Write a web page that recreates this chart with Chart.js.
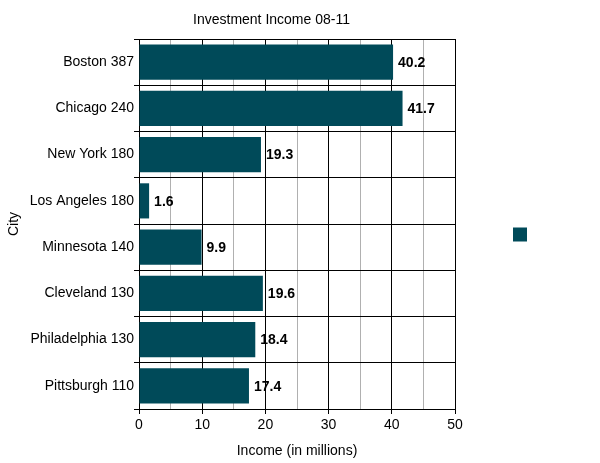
<!DOCTYPE html>
<html>
<head>
<meta charset="utf-8">
<script src="https://cdn.jsdelivr.net/npm/chart.js@4/dist/chart.umd.min.js"></script>
<style>
  html, body { margin: 0; padding: 0; background: #fff; }
  #wrap { width: 600px; height: 463px; }
</style>
</head>
<body>
<div id="wrap"><canvas id="c" width="600" height="463"></canvas></div>
<script>
const categories = ["Boston 387", "Chicago 240", "New York 180", "Los Angeles 180", "Minnesota 140", "Cleveland 130", "Philadelphia 130", "Pittsburgh 110"];
const incomeValues = [40.2, 41.7, 19.3, 1.6, 9.9, 19.6, 18.4, 17.4];
const xTickValues = [0, 10, 20, 30, 40, 50];

const FONT = "'Liberation Sans', Arial, sans-serif";
const BAR_COLOR = '#004a59';

const valueLabels = {
  id: 'valueLabels',
  afterDatasetsDraw(chart) {
    const ctx = chart.ctx;
    const meta = chart.getDatasetMeta(0);
    ctx.save();
    ctx.font = "bold 14px " + FONT;
    ctx.fillStyle = '#000';
    ctx.textAlign = 'left';
    ctx.textBaseline = 'middle';
    meta.data.forEach((el, i) => {
      ctx.fillText(String(chart.data.datasets[0].data[i]), el.x + 5, el.y + 1);
    });
    ctx.restore();
  }
};

new Chart(document.getElementById('c'), {
  type: 'bar',
  data: {
    labels: categories,
    datasets: [{
      label: '',
      data: incomeValues,
      backgroundColor: BAR_COLOR,
      borderWidth: 0,
      categoryPercentage: 0.76,
      barPercentage: 1.0
    }]
  },
  options: {
    indexAxis: 'y',
    responsive: false,
    animation: false,
    devicePixelRatio: 1,
    layout: { padding: { left: 0, right: 57, top: 0, bottom: 0 } },
    plugins: {
      title: {
        display: true,
        text: 'Investment Income 08-11',
        color: '#000',
        font: { family: FONT, size: 14, weight: 'normal' },
        padding: { top: 12, bottom: 10.2 }
      },
      legend: {
        display: true,
        position: 'right',
        title: {
          display: true,
          text: ' ',
          font: { family: FONT, size: 5 },
          padding: 0
        },
        labels: {
          boxWidth: 14,
          boxHeight: 14,
          padding: 58,
          font: { family: FONT, size: 12 },
          color: '#000'
        }
      },
      tooltip: { enabled: false }
    },
    scales: {
      x: {
        min: 0,
        max: 50,
        ticks: {
          stepSize: 5,
          autoSkip: false,
          maxRotation: 0,
          color: '#000',
          padding: 3,
          font: { family: FONT, size: 14 },
          callback: (v) => xTickValues.includes(v) ? String(v) : ''
        },
        grid: {
          color: (c) => (c.tick && xTickValues.includes(c.tick.value)) ? '#000' : '#b0b0b0',
          tickColor: (c) => (c.tick && xTickValues.includes(c.tick.value)) ? '#000' : 'rgba(0,0,0,0)',
          tickLength: 5,
          lineWidth: 1
        },
        border: { display: true, color: '#000' },
        title: {
          display: true,
          text: 'Income (in millions)',
          color: '#000',
          font: { family: FONT, size: 14 },
          padding: { top: 4, bottom: 3 }
        },
        afterFit: (s) => { s.height = 54; }
      },
      y: {
        offset: true,
        ticks: {
          color: '#000',
          padding: 0,
          font: { family: FONT, size: 14 }
        },
        grid: {
          offset: true,
          color: '#000',
          tickColor: '#000',
          tickLength: 5,
          lineWidth: 1
        },
        border: { display: true, color: '#000' },
        title: {
          display: true,
          text: 'City',
          color: '#000',
          font: { family: FONT, size: 14 },
          padding: { top: 6, bottom: 0 }
        },
        afterFit: (s) => { s.width = 139; }
      }
    }
  },
  plugins: [valueLabels]
});
</script>
</body>
</html>
